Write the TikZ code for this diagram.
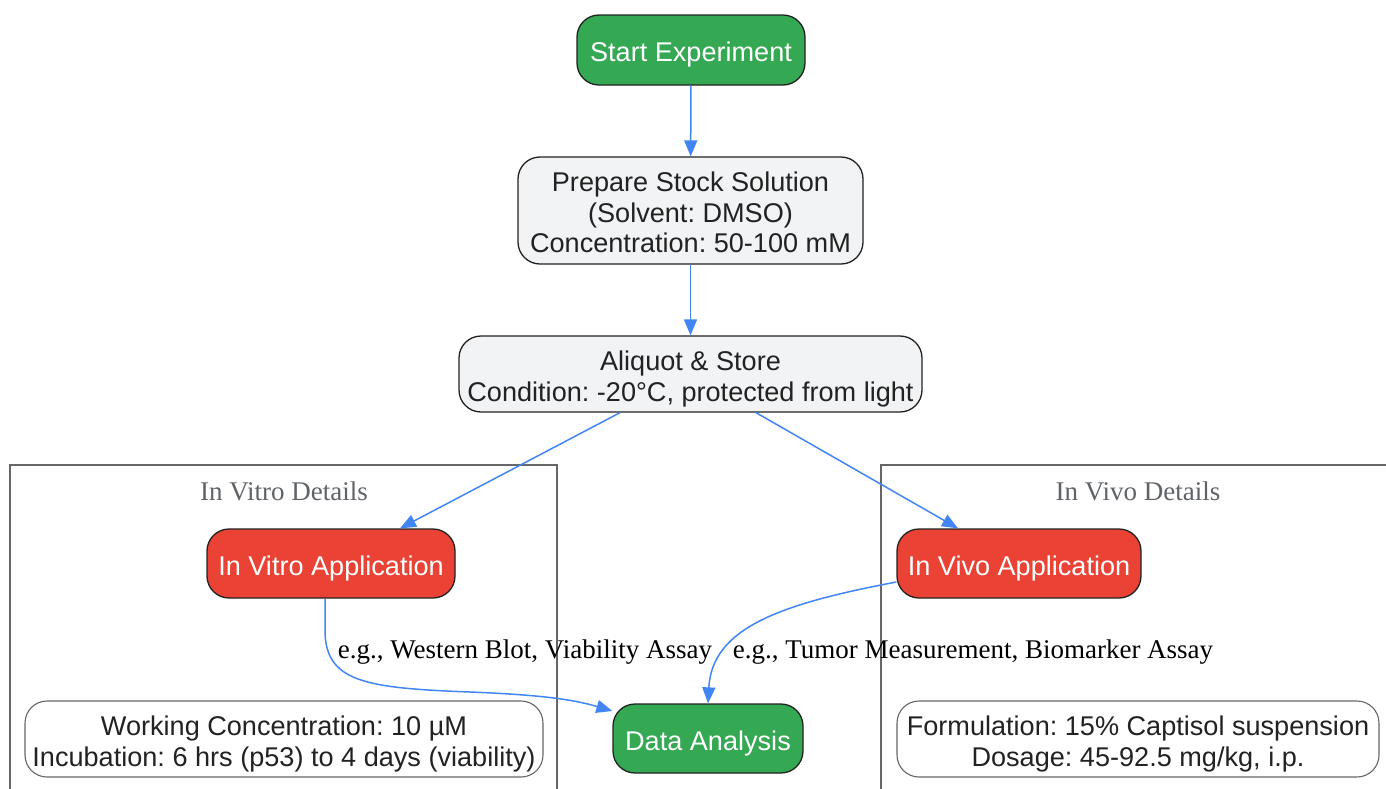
\documentclass[tikz,border=0pt]{standalone}
\usepackage{fontspec}
\setmainfont{Liberation Sans}
\newfontfamily\serifnf{Liberation Serif}
\usetikzlibrary{arrows.meta}
\frenchspacing
\definecolor{gfill}{HTML}{34A853}
\definecolor{rfill}{HTML}{EA4335}
\definecolor{lgray}{HTML}{F1F3F4}
\definecolor{ablue}{HTML}{4285F4}
\definecolor{txt}{HTML}{222222}
\definecolor{clgray}{HTML}{666666}
\definecolor{ttlgray}{HTML}{5F6368}
\newcommand{\bs}{\rule[-0.212em]{0pt}{1.117em}}
\newcommand{\bt}{\rule[-0.212em]{0pt}{\dimexpr 1.117em+5pt\relax}}
\tikzset{
  base/.style={rectangle, rounded corners=22pt, draw=txt, line width=1.3pt, align=center, inner sep=0pt,
     font=\fontsize{27.1}{30.5}\selectfont\frenchspacing},
  greenbox/.style={base, fill=gfill, text=white},
  redbox/.style={base, fill=rfill, text=white},
  graybox/.style={base, fill=lgray, text=txt},
  notebox/.style={base, fill=white, draw=clgray, text=txt, line width=1.1pt},
  conn/.style={draw=ablue, line width=1.5pt, -{Triangle[length=16pt,width=13pt]}},
  lbl/.style={font=\serifnf\fontsize{27}{30}\selectfont\frenchspacing, text=black, inner sep=0pt},
  ttl/.style={font=\serifnf\fontsize{27}{30}\selectfont, text=ttlgray, inner sep=0pt},
  cluster/.style={draw=clgray, line width=1.3pt}
}
\begin{document}
\begin{tikzpicture}[x=1pt,y=-1pt]
\useasboundingbox (0,0) rectangle (1386,788);
% clusters
\draw[cluster] (10,790) -- (10,465) -- (557,465) -- (557,790);
\draw[cluster] (881,790) -- (881,465) -- (1388,465);
\node[ttl] (ttlvitro) at (284,491) {In Vitro Details};
\node[ttl] (ttlvivo) at (1138,491) {In Vivo Details};
% nodes
\node[greenbox, minimum width=228pt, minimum height=70pt] (start) at (691,50) {\bt Start Experiment};
\node[graybox, minimum width=345pt, minimum height=107pt] (prep) at (690.5,210.5) {\bt Prepare Stock Solution\\\bs(Solvent: DMSO)\\\bs Concentration: 50-100 mM};
\node[graybox, minimum width=463pt, minimum height=76pt] (aliq) at (690.5,374) {\bt Aliquot \& Store\\\bs Condition: -20°C, protected from light};
\node[redbox, minimum width=248pt, minimum height=69pt] (vitro) at (331,563.5) {\bt In Vitro Application};
\node[redbox, minimum width=244pt, minimum height=69pt] (vivo) at (1019,563.5) {\bt In Vivo Application};
\node[greenbox, minimum width=190pt, minimum height=69pt] (data) at (708,738.5) {\bt Data Analysis};
\node[notebox, minimum width=518pt, minimum height=76pt] (wc) at (284,739) {\bt Working Concentration: 10 µM\\\bs Incubation: 6 hrs (p53) to 4 days (viability)};
\node[notebox, minimum width=482pt, minimum height=76pt] (form) at (1138,739) {\bt Formulation: 15\% Captisol suspension\\\bs Dosage: 45-92.5 mg/kg, i.p.};
% connectors
\draw[conn] (start) -- (prep);
\draw[conn] (prep) -- (aliq);
\draw[conn] (aliq.south -| 620,0) -- (vitro.north -| 400,0);
\draw[conn] (aliq.south -| 756,0) -- (vivo.north -| 958,0);
\draw[conn] (vitro.south -| 325,0) -- (325,630) .. controls (325,682) and (365,688) .. (470,692) .. controls (545,695) and (575,700) .. (data.west |- 0,711);
\draw[conn] (vivo.west |- 0,582) .. controls (780,604) and (712,628) .. (data.north -| 708,0);
% edge labels
\node[lbl] (l1) at (525,652) {e.g., Western Blot, Viability Assay};
\node[lbl] (l2) at (973,652) {e.g., Tumor Measurement, Biomarker Assay};
\end{tikzpicture}
\end{document}
